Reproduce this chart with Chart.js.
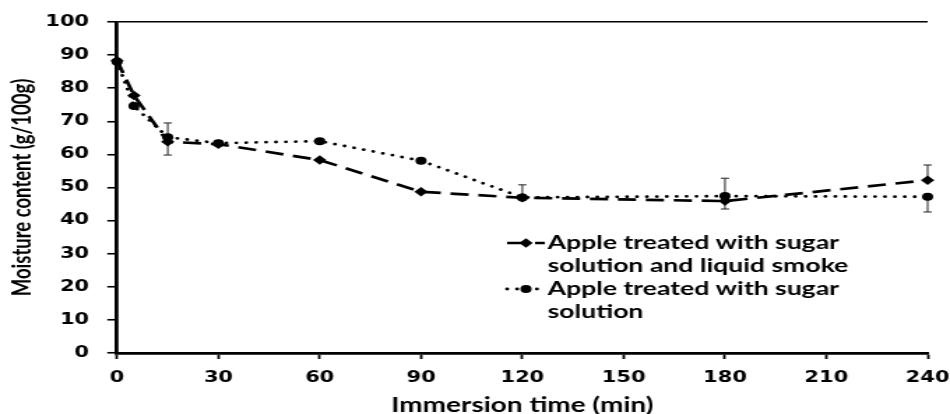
<!DOCTYPE html>
<html>
<head>
<meta charset="utf-8">
<script src="https://cdn.jsdelivr.net/npm/chart.js@4.4.1/dist/chart.umd.min.js"></script>
<style>
  html, body { margin: 0; padding: 0; background: #fff; overflow: hidden; }
  /* the source figure is stretched sideways, so the chart is drawn narrow and widened */
  #wrap { width: 680px; height: 414px; transform: scaleX(1.397); transform-origin: 0 0; }
</style>
</head>
<body>
<div id="wrap"><canvas id="chart" width="680" height="414"></canvas></div>
<script>
// immersion time (min)
const times = [0, 5, 15, 30, 60, 90, 120, 180, 240];

// moisture content (g/100g)
const smokeValues = [88.3, 77.8, 63.8, 63.1, 58.3, 48.7, 46.9, 45.9, 52.2];
const sugarValues = [88.0, 74.6, 65.2, 63.4, 64.0, 58.1, 47.0, 47.4, 47.2];

// error bars (up / down amounts)
const smokeErrUp   = [0, 0, 0,   0, 0, 0, 0,   0,   4.6];
const smokeErrDown = [0, 0, 4.0, 0, 0, 0, 0,   2.4, 0];
const sugarErrUp   = [0, 0, 4.3, 0, 0, 0, 3.8, 5.4, 0];
const sugarErrDown = [0, 0, 0,   0, 0, 0, 0,   0,   4.6];

const xTicks = [0, 30, 60, 90, 120, 150, 180, 210, 240];
const yTicks = [0, 10, 20, 30, 40, 50, 60, 70, 80, 90, 100];

const seriesNames = [
    ['Apple treated with sugar', 'solution and liquid smoke'],
    ['Apple treated with sugar', 'solution']
];

const toPoints = vals => vals.map((v, i) => ({ x: times[i], y: v }));

// Vertical error bars with small caps, drawn under the markers
const errorBarPlugin = {
    id: 'errorBars',
    beforeDatasetsDraw(chart) {
        const { ctx, scales: { x, y } } = chart;
        const errs = [[smokeErrUp, smokeErrDown], [sugarErrUp, sugarErrDown]];
        ctx.save();
        ctx.strokeStyle = '#222';
        ctx.lineWidth = 1;
        chart.data.datasets.forEach((ds, d) => {
            const [up, down] = errs[d];
            ds.data.forEach((p, i) => {
                if (!up[i] && !down[i]) return;
                const px = x.getPixelForValue(p.x);
                const top = y.getPixelForValue(p.y + up[i]);
                const bot = y.getPixelForValue(p.y - down[i]);
                ctx.beginPath();
                ctx.moveTo(px, top); ctx.lineTo(px, bot);
                if (up[i]) { ctx.moveTo(px - 3, top); ctx.lineTo(px + 3, top); }
                if (down[i]) { ctx.moveTo(px - 3, bot); ctx.lineTo(px + 3, bot); }
                ctx.stroke();
            });
        });
        ctx.restore();
    }
};

// Legend sitting inside the plot, two lines of text per entry
const insetLegendPlugin = {
    id: 'insetLegend',
    afterDatasetsDraw(chart, args, opts) {
        const ctx = chart.ctx;
        ctx.save();
        ctx.font = opts.font;
        ctx.fillStyle = '#000';
        ctx.textBaseline = 'middle';
        chart.data.datasets.forEach((ds, d) => {
            const rowY = opts.rows[d * 2];
            ctx.save();
            ctx.strokeStyle = ds.borderColor;
            ctx.lineWidth = ds.borderWidth;
            ctx.lineCap = ds.borderCapStyle || 'butt';
            ctx.setLineDash(ds.borderDash || []);
            ctx.beginPath();
            ctx.moveTo(opts.x0, rowY);
            ctx.lineTo(opts.x1, rowY);
            ctx.stroke();
            ctx.restore();
            Chart.helpers.drawPoint(ctx, {
                pointStyle: ds.pointStyle,
                radius: ds.pointRadius,
                borderWidth: 0,
                rotation: 0
            }, (opts.x0 + opts.x1) / 2, rowY);
            seriesNames[d].forEach((line, k) => {
                ctx.fillText(line, opts.textX, opts.rows[d * 2 + k]);
            });
        });
        ctx.restore();
    }
};

new Chart(document.getElementById('chart'), {
    type: 'line',
    data: {
        datasets: [
            {
                label: seriesNames[0].join(' '),
                data: toPoints(smokeValues),
                borderColor: '#000',
                backgroundColor: '#000',
                borderWidth: 2.7,
                borderDash: [13, 7],
                pointStyle: 'rectRot',
                pointRadius: 4.8,
                pointBorderWidth: 0,
                tension: 0,
                clip: false
            },
            {
                label: seriesNames[1].join(' '),
                data: toPoints(sugarValues),
                borderColor: '#000',
                backgroundColor: '#000',
                borderWidth: 2.8,
                borderDash: [0.1, 7],
                borderCapStyle: 'round',
                pointStyle: 'circle',
                pointRadius: 4,
                pointBorderWidth: 0,
                tension: 0,
                clip: false
            }
        ]
    },
    options: {
        responsive: false,
        devicePixelRatio: 1,
        animation: false,
        layout: { padding: { top: 20, right: 16, left: 0, bottom: 0 } },
        plugins: {
            legend: { display: false },
            tooltip: { enabled: false },
            insetLegend: {
                x0: 363, x1: 390, textX: 392,
                rows: [243, 266, 289, 312],
                font: 'bold 19px Lato'
            }
        },
        scales: {
            x: {
                type: 'linear',
                min: 0,
                max: 240,
                afterBuildTicks: s => { s.ticks = xTicks.map(v => ({ value: v })); },
                afterFit: s => { s.height = 61; s.paddingRight = 0; s.paddingLeft = 0; },
                border: { display: true, color: '#000', width: 2.7 },
                grid: { drawOnChartArea: false, tickLength: 6, tickColor: '#000', tickWidth: 1.8 },
                ticks: {
                    padding: 10,
                    maxRotation: 0,
                    color: '#000',
                    font: { family: 'DejaVu Sans', weight: 'bold', size: 15 }
                },
                title: {
                    display: true,
                    text: 'Immersion time (min)',
                    color: '#000',
                    font: { family: 'Lato', weight: 'bold', size: 20, lineHeight: 0.8 },
                    padding: { top: 0, bottom: 0 }
                }
            },
            y: {
                min: 0,
                max: 100,
                afterBuildTicks: s => { s.ticks = yTicks.map(v => ({ value: v })); },
                afterFit: s => { s.width = 83.8; },
                border: { display: true, color: '#000', width: 2.8 },
                grid: {
                    color: c => (c.tick && c.tick.value === 100 ? '#000' : 'rgba(0,0,0,0)'),
                    lineWidth: 1.5,
                    tickLength: 7,
                    tickColor: '#000',
                    tickWidth: 1.6
                },
                ticks: {
                    padding: 13,
                    color: '#000',
                    font: { family: 'DejaVu Sans', weight: 'bold', size: 15 }
                },
                title: {
                    display: true,
                    text: 'Moisture content (g/100g)',
                    color: '#000',
                    font: { family: 'Lato', weight: 'bold', size: 18.5, lineHeight: 1.2 },
                    padding: { top: 5, bottom: 0 }
                }
            }
        }
    },
    plugins: [errorBarPlugin, insetLegendPlugin]
});
</script>
</body>
</html>
